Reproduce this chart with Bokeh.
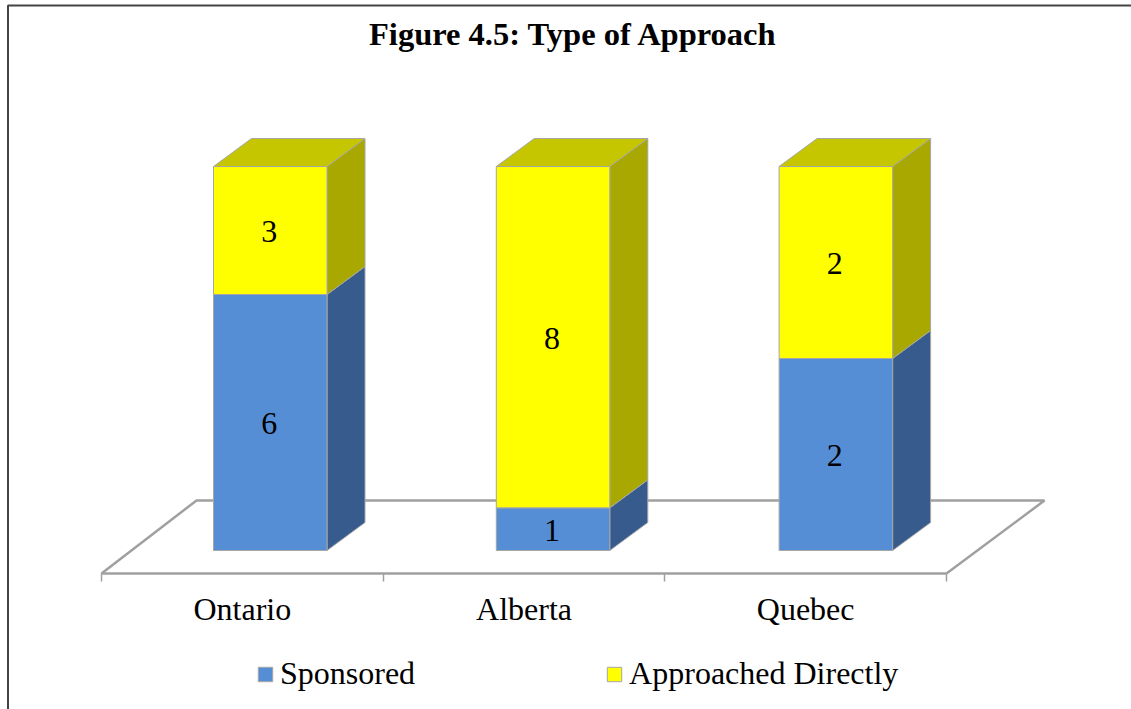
from bokeh.plotting import figure
from bokeh.embed import file_html
from bokeh.resources import INLINE
from bokeh.core.properties import value
from bokeh.models import (BoxAnnotation, FixedTicker, Label, LinearAxis, Legend, LegendItem,
                          Range1d)

TITLE = "Figure 4.5: Type of Approach"
categories = ["Ontario", "Alberta", "Quebec"]
sponsored = [6, 1, 2]
approached = [3, 8, 2]
series_names = ["Sponsored", "Approached Directly"]

FONT = "Liberation Serif"
BLUE, BLUE_SIDE = "#558ed5", "#375b8c"
YELLOW, YELLOW_SIDE, YELLOW_TOP = "#ffff00", "#a8a800", "#c6c600"
EDGE = "#a6a6a6"
AXIS = "#a0a0a0"

W, H = 1131, 709
X0, XU = 101, 845 / 3      # pixel of category edge 0, pixels per category
Y0, YU = 550, 384          # pixel of share 0, pixels per share 1.0
BAR_W = 113.5 / XU
BAR_STEP = 282.8 / XU      # the bars stand further back, so they are spaced a little wider
DX, DY = 38 / XU, 28 / YU            # bar depth
FLOOR_DX, FLOOR_DY = 95 / XU, 73 / YU
FLOOR_BACK_W = 848 / XU
FLOOR_Y = -23 / YU

p = figure(width=W, height=H, output_backend="svg", toolbar_location=None,
           margin=(0, 0, 0, 0), min_border=0, min_border_left=0, min_border_right=0,
           min_border_top=0, min_border_bottom=0,
           x_axis_type=None, y_axis_type=None,
           x_range=Range1d(-X0 / XU, (W - X0) / XU),
           y_range=Range1d((Y0 - H) / YU, Y0 / YU))
p.grid.visible = False
p.outline_line_color = None
p.background_fill_color = "white"
p.border_fill_color = "white"

p.add_layout(Label(x=573, y=33, x_units="canvas", y_units="canvas", text=TITLE,
                   text_align="center", text_baseline="middle",
                   text_font=FONT, text_font_size="32.5px", text_font_style="bold",
                   text_color="black"))

# document border: only the top and left edges are in view
p.add_layout(BoxAnnotation(left=7.5, right=W + 20, top=5, bottom=H + 20,
                           left_units="canvas", right_units="canvas",
                           top_units="canvas", bottom_units="canvas",
                           fill_color=None, line_color="#444444", line_alpha=1, line_width=2))

# floor
n = len(categories)
p.line([0, FLOOR_DX, FLOOR_DX + FLOOR_BACK_W, n],
       [FLOOR_Y, FLOOR_Y + FLOOR_DY, FLOOR_Y + FLOOR_DY, FLOOR_Y],
       line_color=AXIS, line_width=2.5)

# bars
totals = [a + b for a, b in zip(sponsored, approached)]
share_s = [a / t for a, t in zip(sponsored, totals)]
lefts = [(213 - X0) / XU + i * BAR_STEP for i in range(n)]
rights = [l + BAR_W for l in lefts]
ones = [1.0] * n
zeros = [0.0] * n


def side_xs():
    return [[r, r + DX, r + DX, r] for r in rights]


def side_ys(lo, hi):
    return [[a, a + DY, b + DY, b] for a, b in zip(lo, hi)]


p.patches(side_xs(), side_ys(zeros, share_s), fill_color=BLUE_SIDE, line_color=EDGE, line_width=1)
p.patches(side_xs(), side_ys(share_s, ones), fill_color=YELLOW_SIDE, line_color=EDGE, line_width=1)
p.patches([[l, l + DX, r + DX, r] for l, r in zip(lefts, rights)],
          [[1.0, 1.0 + DY, 1.0 + DY, 1.0] for _ in range(n)],
          fill_color=YELLOW_TOP, line_color=EDGE, line_width=1)
r_s = p.quad(left=lefts, right=rights, bottom=zeros, top=share_s,
             fill_color=BLUE, line_color=EDGE, line_width=1)
r_a = p.quad(left=lefts, right=rights, bottom=share_s, top=ones,
             fill_color=YELLOW, line_color=EDGE, line_width=1)

# data labels
centers = [(l + r) / 2 for l, r in zip(lefts, rights)]
p.text(centers, [s / 2 for s in share_s], text=[str(v) for v in sponsored],
       text_align="center", text_baseline="middle", text_color="black", x_offset=-1, y_offset=1,
       text_font=value(FONT), text_font_size="32px")
p.text(centers, [(s + 1) / 2 for s in share_s], text=[str(v) for v in approached],
       text_align="center", text_baseline="middle", text_color="black", x_offset=-1, y_offset=1,
       text_font=value(FONT), text_font_size="32px")

# category axis on the front edge of the floor
ax = LinearAxis(fixed_location=FLOOR_Y, bounds=(0, n))
ax.ticker = FixedTicker(ticks=[i + 0.5 for i in range(n)], minor_ticks=list(range(n + 1)))
ax.major_label_overrides = {i + 0.5: c for i, c in enumerate(categories)}
ax.major_tick_line_color = None
ax.minor_tick_line_color = AXIS
ax.minor_tick_line_width = 1.5
ax.minor_tick_in = 0
ax.minor_tick_out = 8
ax.axis_line_color = AXIS
ax.axis_line_width = 2.5
ax.major_label_standoff = 9
ax.major_label_text_font = FONT
ax.major_label_text_font_size = "32px"
ax.major_label_text_color = "black"
p.add_layout(ax, "below")

# legend
legend = Legend(items=[LegendItem(label=series_names[0], renderers=[r_s]),
                       LegendItem(label=series_names[1], renderers=[r_a])],
                orientation="horizontal", location=(256, 17), margin=0, padding=0,
                spacing=190, glyph_width=18, glyph_height=18, label_standoff=6,
                label_text_font=FONT, label_text_font_size="32px", label_text_color="black",
                border_line_color=None, background_fill_color=None, background_fill_alpha=0)
p.add_layout(legend, "center")

open("out.html", "w").write(file_html(p, INLINE))
